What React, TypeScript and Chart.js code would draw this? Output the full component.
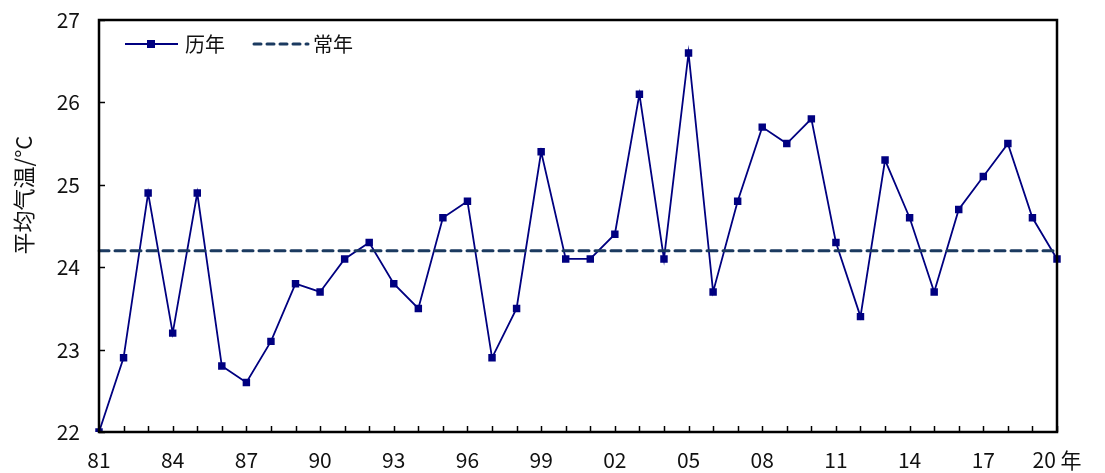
import React, { useEffect, useRef } from "react";
import { Chart, registerables } from "chart.js";

Chart.register(...registerables);

const years: string[] = [
  "81","82","83","84","85","86","87","88","89","90",
  "91","92","93","94","95","96","97","98","99","00",
  "01","02","03","04","05","06","07","08","09","10",
  "11","12","13","14","15","16","17","18","19","20",
];
const annualTemp: number[] = [
  22.0, 22.9, 24.9, 23.2, 24.9, 22.8, 22.6, 23.1, 23.8, 23.7,
  24.1, 24.3, 23.8, 23.5, 24.6, 24.8, 22.9, 23.5, 25.4, 24.1,
  24.1, 24.4, 26.1, 24.1, 26.6, 23.7, 24.8, 25.7, 25.5, 25.8,
  24.3, 23.4, 25.3, 24.6, 23.7, 24.7, 25.1, 25.5, 24.6, 24.1,
];
const normalValue = 24.2;
const normalTemp: number[] = years.map(() => normalValue);
const seriesNames: string[] = ["历年", "常年"];
const yTitle = "平均气温/°C";
const yMin = 22;
const yMax = 27;

const FONT = "'Noto Sans CJK SC', 'Noto Sans', sans-serif";
const LINE_COLOR = "#000080";
const NORMAL_COLOR = "#1B3A60";

const framePlugin = {
  id: "frameTicks",
  afterDatasetsDraw(chart: any) {
    const { ctx, chartArea, scales } = chart;
    const { left, right, top, bottom } = chartArea;
    ctx.save();
    ctx.strokeStyle = "#000";
    ctx.lineWidth = 1.5;
    const xs = scales.x;
    for (let i = 0; i < years.length; i++) {
      const px = Math.round(xs.getPixelForValue(i)) + 0.5;
      ctx.beginPath();
      ctx.moveTo(px, bottom);
      ctx.lineTo(px, bottom - 6);
      ctx.stroke();
    }
    const ys = scales.y;
    for (let v = yMin; v <= yMax; v++) {
      const py = Math.round(ys.getPixelForValue(v)) + 0.5;
      ctx.beginPath();
      ctx.moveTo(left, py);
      ctx.lineTo(left + 6, py);
      ctx.stroke();
    }
    ctx.lineWidth = 2.5;
    ctx.strokeRect(left, top, right - left, bottom - top);

    // legend
    const ly = top + 24;
    const lx = left + 26;
    ctx.strokeStyle = LINE_COLOR;
    ctx.lineWidth = 1.8;
    ctx.beginPath();
    ctx.moveTo(lx, ly);
    ctx.lineTo(lx + 53, ly);
    ctx.stroke();
    ctx.fillStyle = LINE_COLOR;
    ctx.fillRect(lx + 26 - 4, ly - 4, 8, 8);
    ctx.fillStyle = "#111";
    ctx.font = `20px ${FONT}`;
    ctx.textBaseline = "middle";
    ctx.textAlign = "left";
    ctx.fillText(seriesNames[0], lx + 60, ly);

    const l2 = lx + 127;
    ctx.strokeStyle = NORMAL_COLOR;
    ctx.lineWidth = 3;
    ctx.lineCap = "round";
    ctx.setLineDash([7, 6]);
    ctx.beginPath();
    ctx.moveTo(l2 + 2, ly);
    ctx.lineTo(l2 + 56, ly);
    ctx.stroke();
    ctx.setLineDash([]);
    ctx.fillStyle = "#111";
    ctx.fillText(seriesNames[1], l2 + 61, ly);

    // y title
    ctx.save();
    ctx.translate(24, 195);
    ctx.rotate(-Math.PI / 2);
    ctx.textAlign = "center";
    ctx.textBaseline = "middle";
    ctx.font = `22px ${FONT}`;
    ctx.fillStyle = "#111";
    ctx.fillText(yTitle, 0, 0);
    ctx.restore();
    ctx.restore();
  },
};

export default function App() {
  const ref = useRef<HTMLCanvasElement | null>(null);
  useEffect(() => {
    document.body.style.margin = "0";
    if (!ref.current) return;
    const chart = new Chart(ref.current, {
      type: "line",
      data: {
        labels: years,
        datasets: [
          {
            label: seriesNames[0],
            data: annualTemp,
            borderColor: LINE_COLOR,
            backgroundColor: LINE_COLOR,
            borderWidth: 1.8,
            pointStyle: "rect",
            pointRadius: 4,
            pointHoverRadius: 4,
            tension: 0,
            order: 2,
          },
          {
            label: seriesNames[1],
            data: normalTemp,
            borderColor: NORMAL_COLOR,
            borderWidth: 3,
            borderDash: [10, 6],
            borderCapStyle: "round",
            pointRadius: 0,
            tension: 0,
            order: 1,
          },
        ],
      },
      options: {
        animation: false,
        responsive: false,
        devicePixelRatio: 1,
        layout: { padding: { top: 20, right: 48, left: 0, bottom: 0 } },
        plugins: {
          legend: { display: false },
          tooltip: { enabled: false },
        },
        scales: {
          x: {
            type: "category",
            offset: false,
            grid: { display: false, drawTicks: false },
            border: { display: false },
            ticks: {
              autoSkip: false,
              maxRotation: 0,
              padding: 15,
              color: "#111",
              font: { family: FONT, size: 21 },
              callback: (_v: any, i: number) => {
                if (i % 3 !== 0) return "";
                return i === years.length - 1 ? years[i] + " 年" : years[i];
              },
            },
            afterFit: (s: any) => {
              s.height = 41;
              s.paddingLeft = 0;
              s.paddingRight = 0;
            },
          },
          y: {
            min: yMin,
            max: yMax,
            grid: { display: false, drawTicks: false },
            border: { display: false },
            ticks: {
              stepSize: 1,
              padding: 19,
              color: "#111",
              font: { family: FONT, size: 21 },
            },
            afterFit: (s: any) => {
              s.width = 99;
              s.paddingTop = 0;
              s.paddingBottom = 0;
            },
          },
        },
      },
      plugins: [framePlugin],
    });
    return () => chart.destroy();
  }, []);
  return (
    <div style={{ width: 1105, height: 473 }}>
      <canvas ref={ref} width={1105} height={473} style={{ display: "block" }} />
    </div>
  );
}
